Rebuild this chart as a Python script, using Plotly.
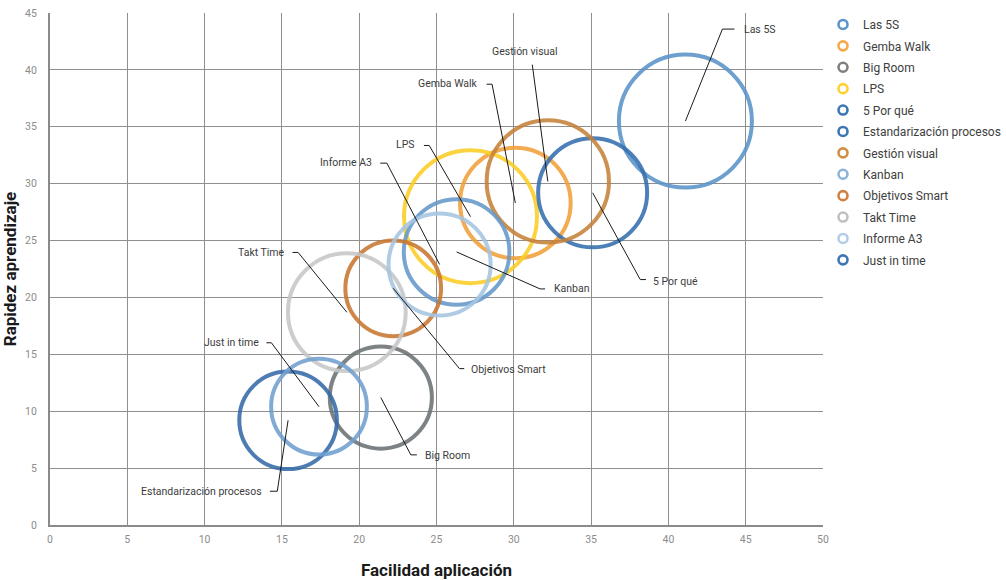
import plotly.graph_objects as go
import math

# ---------------- data ----------------
nombres = ["Las 5S", "Gemba Walk", "Big Room", "LPS", "5 Por qué",
           "Estandarización procesos", "Gestión visual", "Kanban",
           "Objetivos Smart", "Takt Time", "Informe A3", "Just in time"]
facilidad = [41.1, 30.1, 21.4, 27.2, 35.1, 15.4, 32.2, 26.3, 22.2, 19.2, 25.2, 17.4]
rapidez = [35.5, 28.3, 11.2, 27.1, 29.2, 9.2, 30.2, 24.0, 20.8, 18.7, 22.9, 10.4]
tamano = [10.0, 7.0, 6.0, 10.0, 6.8, 5.5, 8.5, 6.4, 5.3, 7.9, 6.0, 5.3]

x_ticks = [0, 5, 10, 15, 20, 25, 30, 35, 40, 45, 50]
y_ticks = [0, 5, 10, 15, 20, 25, 30, 35, 40, 45]

# ---------------- styles ----------------
ring_colors = ["#5a94c8", "#f2a03a", "#6c7275", "#fbce25", "#366faf", "#356aa9",
               "#c6813a", "#6699c9", "#c97631", "#c5c7c8", "#a6c5e2", "#70a0d0"]
legend_colors = ["#5b95c9", "#f5a94a", "#7f7f7f", "#fdd22f", "#3d76b5", "#3d76b5",
                 "#d08e45", "#8db2db", "#d08040", "#c0c0c0", "#b4cde6", "#3d76b5"]
MAX_DIAM = 137.0

# label layout (pixels, screen direction, relative to bubble centre):
# elbow point (ex, ey), horizontal tick h, text position (tx, ty), anchor
label_layout = [
    dict(ex=37, ey=-92, h=12, tx=56.3, ty=-92, anchor="left"),           # Las 5S
    dict(ex=-23.3, ey=-118.8, h=-5.4, tx=-35.3, ty=-119.5, anchor="right"),  # Gemba Walk
    dict(ex=30, ey=57.3, h=6, tx=42, ty=58, anchor="left"),              # Big Room
    dict(ex=-41.3, ey=-71.2, h=-5.3, tx=-53.3, ty=-72.2, anchor="right"),  # LPS
    dict(ex=47.6, ey=86.8, h=5.7, tx=58.3, ty=88.5, anchor="left"),      # 5 Por qué
    dict(ex=-10.8, ey=70.9, h=-7.4, tx=-24.2, ty=70.9, anchor="right"),  # Estandarización
    dict(ex=-15.5, ey=-116.7, h=0, tx=-22.5, ty=-130, anchor="center"),  # Gestión visual
    dict(ex=83.5, ey=37, h=5, tx=95.8, ty=36.7, anchor="left"),          # Kanban
    dict(ex=66.3, ey=80.3, h=4.7, tx=75.6, ty=80.8, anchor="left"),      # Objetivos Smart
    dict(ex=-48.7, ey=-59.8, h=-5.6, tx=-60.3, ty=-59.8, anchor="right"),  # Takt Time
    dict(ex=-52.7, ey=-101.3, h=-6.6, tx=-66, ty=-101.7, anchor="right"),  # Informe A3
    dict(ex=-47.6, ey=-63.9, h=-5, tx=-57.6, ty=-63.9, anchor="right"),  # Just in time
]

FONT = "Roboto, Liberation Sans, sans-serif"
TITLE_FONT = "Roboto, Liberation Sans, sans-serif"

fig = go.Figure()
vmax = max(tamano)
for i, n in enumerate(nombres):
    d = MAX_DIAM * math.sqrt(tamano[i] / vmax) - 4
    fig.add_trace(go.Scatter(
        x=[facilidad[i]], y=[rapidez[i]], mode="markers", name=n,
        showlegend=False, opacity=0.88,
        marker=dict(size=d, color="rgba(0,0,0,0)",
                    line=dict(color=ring_colors[i], width=4)),
        hoverinfo="name"))
for i, n in enumerate(nombres):
    fig.add_trace(go.Scatter(
        x=[None], y=[None], mode="markers", name=n, legendgroup=n,
        marker=dict(size=9, color="rgba(0,0,0,0)",
                    line=dict(color=legend_colors[i], width=2.6))))

shapes = []
annotations = []
for i, n in enumerate(nombres):
    L = label_layout[i]
    path = "M0,0 L{:.1f},{:.1f}".format(L["ex"], -L["ey"])
    if L["h"]:
        path += " L{:.1f},{:.1f}".format(L["ex"] + L["h"], -L["ey"])
    shapes.append(dict(type="path", xref="x", yref="y", xsizemode="pixel", ysizemode="pixel",
                       xanchor=facilidad[i], yanchor=rapidez[i], path=path,
                       line=dict(color="#1a1a1a", width=1), layer="above"))
    annotations.append(dict(x=facilidad[i], y=rapidez[i], xref="x", yref="y",
                            text=n, showarrow=False, xshift=L["tx"], yshift=-L["ty"],
                            xanchor=L["anchor"], yanchor="middle",
                            font=dict(family=FONT, size=10.5, color="#3c3c3c")))

fig.update_layout(
    width=1006, height=580,
    margin=dict(l=50, r=183, t=13, b=55),
    plot_bgcolor="white", paper_bgcolor="white",
    shapes=shapes, annotations=annotations,
    legend=dict(x=823 / 1006, xanchor="left", xref="container",
                y=1.006, yanchor="top", yref="paper",
                font=dict(family=FONT, size=12, color="#404040"),
                tracegroupgap=2.4, traceorder="grouped", itemclick=False,
                bgcolor="rgba(0,0,0,0)"),
    font=dict(family=FONT),
)
fig.update_xaxes(range=[0, 50], tickvals=x_ticks, ticktext=[str(v) for v in x_ticks],
                 showgrid=True, gridcolor="#8f8f8f", gridwidth=1,
                 showline=True, linecolor="#8a8a8a", linewidth=2,
                 zeroline=False, ticks="", ticklabelstandoff=3, automargin=False,
                 tickfont=dict(family=FONT, size=10.5, color="#8c8c8c"),
                 title=dict(text="<b>Facilidad aplicación</b>", standoff=20,
                            font=dict(family=TITLE_FONT, size=17, color="#1a1a1a")))
fig.update_yaxes(range=[0, 45], tickvals=y_ticks, ticktext=[str(v) for v in y_ticks],
                 showgrid=True, gridcolor="#8f8f8f", gridwidth=1,
                 showline=True, linecolor="#8a8a8a", linewidth=2,
                 zeroline=False, ticks="", ticklabelstandoff=9, automargin=False,
                 tickfont=dict(family=FONT, size=10.5, color="#8c8c8c"),
                 title=dict(text="<b>Rapidez aprendizaje</b>", standoff=5,
                            font=dict(family=TITLE_FONT, size=17, color="#1a1a1a")))

fig.write_html("out.html", config={"displayModeBar": False},
               post_script="document.body.style.margin='0';document.body.style.overflow='hidden';")
